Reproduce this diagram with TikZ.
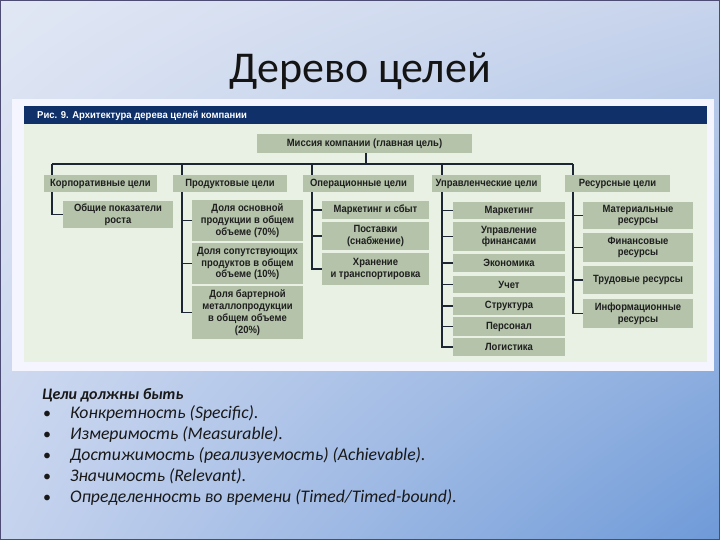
\documentclass[tikz,border=0pt]{standalone}
\usepackage{fontspec}
\setmainfont{Carlito}
\newfontfamily\dfont[FakeStretch=0.9]{Liberation Sans}
\newfontfamily\hfont[FakeStretch=0.95]{Liberation Sans}
\usetikzlibrary{shadings}
\definecolor{boxg}{HTML}{B4C3AA}
\definecolor{paneg}{HTML}{E9F0E4}
\definecolor{navyb}{HTML}{10306A}
\definecolor{linec}{HTML}{1C2733}
\definecolor{bgtl}{HTML}{E1E7F4}
\definecolor{bgtr}{HTML}{C8D4EC}
\definecolor{bgbl}{HTML}{C6D3EE}
\definecolor{bgbr}{HTML}{6E9AD8}
\begin{document}
\begin{tikzpicture}[x=1pt,y=-1pt,
  gbox/.style={fill=boxg, inner sep=1pt, align=center, text=black!88,
    font=\dfont\bfseries\fontsize{10.5}{11.8}\selectfont},
  conn/.style={draw=linec, line width=1.2pt},
  btext/.style={anchor=base west, inner sep=0pt, font=\itshape\fontsize{17.7}{20}\selectfont, text=black!90}]
\useasboundingbox (0,0) rectangle (720,540);
% slide background
\shade[upper left=bgtl, upper right=bgtr, lower left=bgbl, lower right=bgbr] (0,0) rectangle (720,540);
\draw[draw=black!60!blue!40!gray, line width=1.2pt] (0.6,0.6) rectangle (719.4,539.4);
% title
\node[font=\fontsize{44}{50}\selectfont, text=black!92, anchor=base] (title) at (360,83) {Дерево целей};
% picture panel
\fill[white!96!blue] (12,99) rectangle (714,371);
\fill[navyb] (24,106) rectangle (707,124);
\fill[paneg] (24,124) rectangle (707,362);
\node[anchor=west, text=white, inner sep=0pt, font=\hfont\bfseries\fontsize{10}{10}\selectfont] (hdr) at (37,115.5) {Рис. 9. Архитектура дерева целей компании};
% mission
\node[gbox, minimum width=215pt, minimum height=19pt] (mission) at (364.5,143.5) {Миссия компании (главная цель)};
% level 1
\node[gbox, minimum width=113pt, minimum height=17pt] (corp) at (100.5,183.5) {Корпоративные цели};
\node[gbox, minimum width=114pt, minimum height=17pt] (prod) at (230,183.5) {Продуктовые цели};
\node[gbox, minimum width=111pt, minimum height=17pt] (oper) at (358.5,183.5) {Операционные цели};
\node[gbox, minimum width=109pt, minimum height=17pt] (upr) at (486.5,183.5) {Управленческие цели};
\node[gbox, minimum width=105pt, minimum height=17pt] (res) at (617.5,183.5) {Ресурсные цели};
% corp children
\node[gbox, minimum width=110pt, minimum height=27pt] (c1) at (118,214.5) {Общие показатели\\роста};
% prod children
\node[gbox, minimum width=111pt, minimum height=41pt] (p1) at (247.5,220.5) {Доля основной\\продукции в общем\\объеме (70\%)};
\node[gbox, minimum width=111pt, minimum height=41pt] (p2) at (247.5,263.5) {Доля сопутствующих\\продуктов в общем\\объеме (10\%)};
\node[gbox, minimum width=111pt, minimum height=53pt] (p3) at (247.5,312.5) {Доля бартерной\\металлопродукции\\в общем объеме\\(20\%)};
% oper children
\node[gbox, minimum width=107pt, minimum height=18pt] (o1) at (375.5,210) {Маркетинг и сбыт};
\node[gbox, minimum width=107pt, minimum height=28pt] (o2) at (375.5,236) {Поставки\\(снабжение)};
\node[gbox, minimum width=107pt, minimum height=32pt] (o3) at (375.5,269) {Хранение\\и транспортировка};
% upr children
\node[gbox, minimum width=112pt, minimum height=17pt] (u1) at (509,210.5) {Маркетинг};
\node[gbox, minimum width=112pt, minimum height=29pt] (u2) at (509,236.5) {Управление\\финансами};
\node[gbox, minimum width=112pt, minimum height=18pt] (u3) at (509,263) {Экономика};
\node[gbox, minimum width=112pt, minimum height=17pt] (u4) at (509,284.5) {Учет};
\node[gbox, minimum width=112pt, minimum height=18pt] (u5) at (509,306) {Структура};
\node[gbox, minimum width=112pt, minimum height=19pt] (u6) at (509,326.5) {Персонал};
\node[gbox, minimum width=112pt, minimum height=18pt] (u7) at (509,347) {Логистика};
% res children
\node[gbox, minimum width=110pt, minimum height=27pt] (r1) at (638,215.5) {Материальные\\ресурсы};
\node[gbox, minimum width=110pt, minimum height=29pt] (r2) at (638,247.5) {Финансовые\\ресурсы};
\node[gbox, minimum width=110pt, minimum height=28pt] (r3) at (638,280) {Трудовые ресурсы};
\node[gbox, minimum width=110pt, minimum height=29pt] (r4) at (638,313.5) {Информационные\\ресурсы};
% connectors
\coordinate (hc) at (52,164);
\coordinate (hp) at (182,164);
\coordinate (ho) at (312,164);
\coordinate (hu) at (442,164);
\coordinate (hr) at (573,164);
\draw[conn] (mission.south -| 366,0) -- (366,164);
\draw[conn] (hc) -- (hr);
\draw[conn] (hc) -- (hc |- corp.north);
\draw[conn] (hc |- corp.south) |- (c1.west);
\draw[conn] (hp) -- (hp |- prod.north);
\draw[conn] (hp |- prod.south) |- (p3.west);
\draw[conn] (hp |- p1.west) -- (p1.west);
\draw[conn] (hp |- p2.west) -- (p2.west);
\draw[conn] (ho) -- (ho |- oper.north);
\draw[conn] (ho |- oper.south) |- (o3.west);
\draw[conn] (ho |- o1.west) -- (o1.west);
\draw[conn] (ho |- o2.west) -- (o2.west);
\draw[conn] (hu) -- (hu |- upr.north);
\draw[conn] (hu |- upr.south) |- (u7.west);
\foreach \n in {u1,u2,u3,u4,u5,u6} \draw[conn] (hu |- \n.west) -- (\n.west);
\draw[conn] (hr) -- (hr |- res.north);
\draw[conn] (hr |- res.south) |- (r4.west);
\foreach \n in {r1,r2,r3} \draw[conn] (hr |- \n.west) -- (\n.west);
% text below
\node[btext, font=\bfseries\itshape\fontsize{16}{19}\selectfont] (b0) at (42,399) {Цели должны быть};
\foreach \y/\t [count=\i] in {418.5/{Конкретность (Specific).},
    439.5/{Измеримость (Measurable).},
    460.5/{Достижимость (реализуемость) (Achievable).},
    481/{Значимость (Relevant).},
    502/{Определенность во времени (Timed/Timed-bound).}}{
  \node[btext, font=\fontsize{16}{19}\selectfont] (d\i) at (43,\y) {•};
  \node[btext] (b\i) at (70,\y) {\t};
}
\end{tikzpicture}
\end{document}
